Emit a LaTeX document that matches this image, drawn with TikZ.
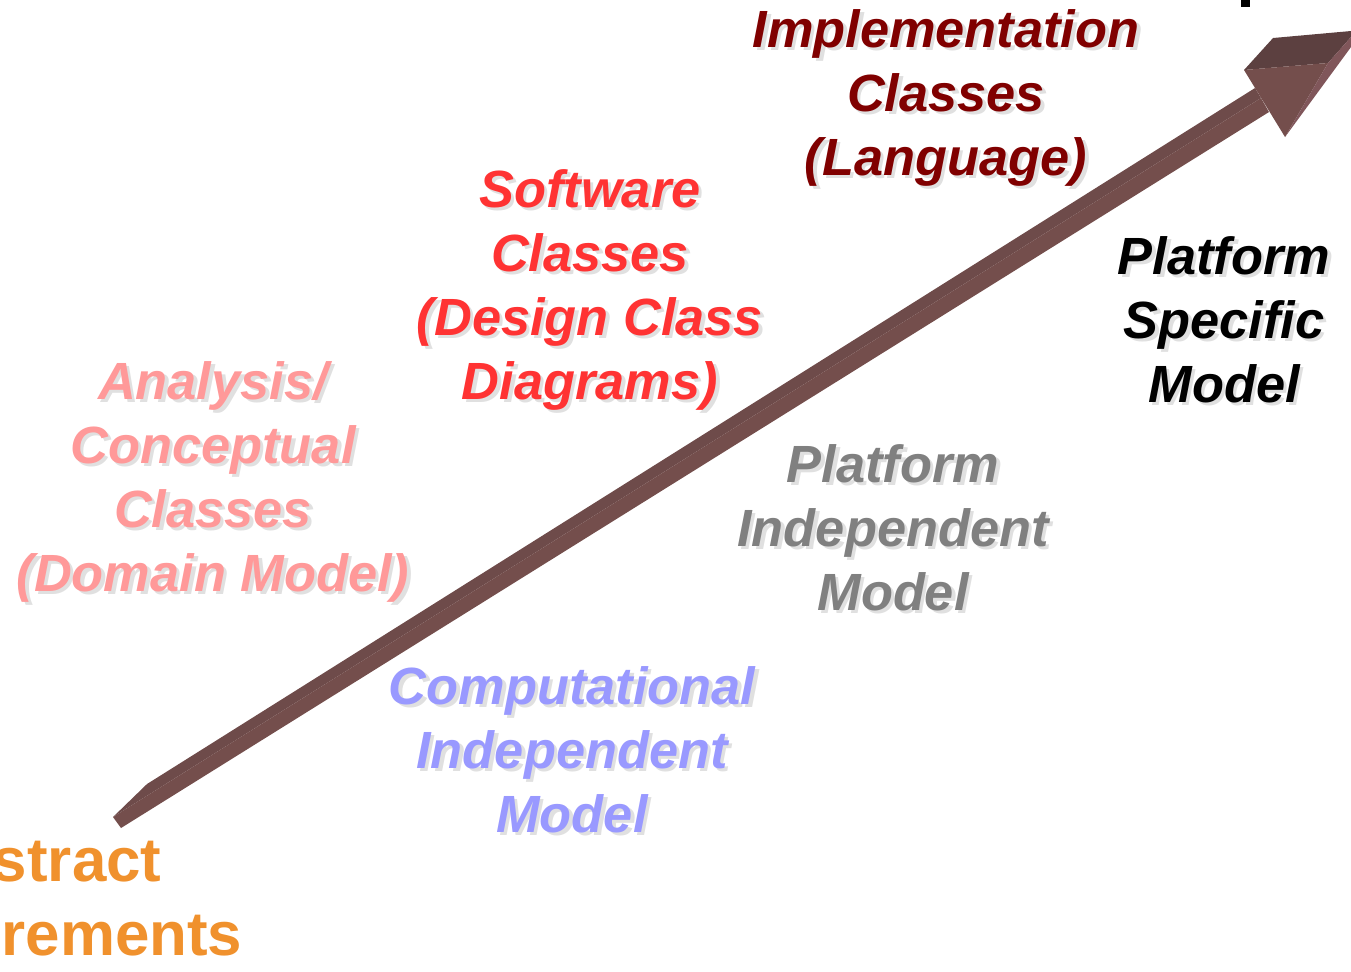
\documentclass[tikz,border=0pt]{standalone}
\usepackage{fontspec}
\setmainfont{Liberation Sans}

\definecolor{implred}{RGB}{128,0,0}
\definecolor{softred}{RGB}{255,51,51}
\definecolor{analpink}{RGB}{255,153,153}
\definecolor{pimgray}{RGB}{128,128,128}
\definecolor{cimblue}{RGB}{153,153,255}
\definecolor{reqorange}{RGB}{240,145,45}
\definecolor{arrowfront}{RGB}{116,78,76}
\definecolor{arrowtop}{RGB}{92,64,64}
\definecolor{arrowshaft}{RGB}{110,75,74}
\definecolor{arrowside}{RGB}{128,86,90}

\tikzset{
  level/.style={align=center, anchor=base, inner sep=0pt,
    font=\fontsize{14.9}{18.2}\selectfont\bfseries\itshape},
  levelshadow/.style={level, text=black!12, xshift=0.35mm, yshift=-0.35mm},
  req/.style={align=center, anchor=base, inner sep=0pt,
    font=\fontsize{17.6}{20.8}\selectfont\bfseries},
}

% level label with its drop shadow (placed at the baseline of its last line)
\newcommand{\levellabel}[4]{%
  \node[levelshadow] (#1-shadow) at (#2) {#4};
  \node[level, text=#3] (#1) at (#2) {#4};
}

\begin{document}
\begin{tikzpicture}[x=0.1mm, y=-0.1mm]

    \clip (0,0) rectangle (1351,971);

    % Arrow shaft
    \coordinate (tailfront) at (113,817);
    \coordinate (tailbottom) at (121,828);
    \coordinate (tailback) at (147,784);
    \coordinate (neckback) at (1255,88);
    \coordinate (neckfront) at (1261,98);
    \coordinate (neckbottom) at (1269,112);
    \fill[arrowshaft] (tailfront) -- (tailback) -- (neckback) -- (neckfront) -- cycle;
    \fill[arrowfront] (tailfront) -- (tailbottom) -- (neckbottom) -- (neckfront) -- cycle;

    % Arrow head
    \coordinate (headleft) at (1244,70);
    \coordinate (headback) at (1273,38);
    \coordinate (headtip) at (1328,63);
    \coordinate (headbottom) at (1285,137);
    \fill[arrowtop] (headleft) -- (headback) -- (1351,31) -- (1351,37) -- (headtip) -- cycle;
    \fill[arrowfront] (headleft) -- (headtip) -- (headbottom) -- cycle;
    \fill[arrowside] (headtip) -- (1351,37) -- (1351,47) -- (headbottom) -- cycle;

    \fill[black] (1241,0) rectangle (1250,7);

    % Define nodes
    \levellabel{impl}{946,175}{implred}{Implementation\\Classes\\(Language)}
    \levellabel{soft}{590,399}{softred}{Software\\Classes\\(Design Class\\Diagrams)}
    \levellabel{anal}{213,591}{analpink}{Analysis/\\Conceptual\\Classes\\(Domain Model)}
    \levellabel{psm}{1224,402}{black}{Platform\\Specific\\Model}
    \levellabel{pim}{893,610}{pimgray}{Platform\\Independent\\Model}
    \levellabel{cim}{572,832}{cimblue}{Computational\\Independent\\Model}

    \node[req, text=reqorange] (req) at (36,955) {Abstract\\Requirements};

\end{tikzpicture}
\end{document}
